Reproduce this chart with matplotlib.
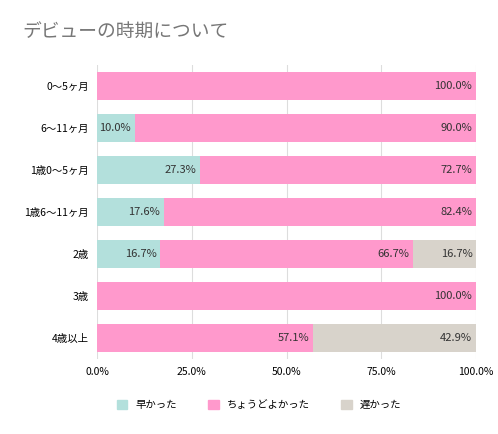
import matplotlib
matplotlib.use("Agg")
import matplotlib.pyplot as plt
from matplotlib.patches import Patch

plt.rcParams['font.family'] = ['Noto Sans CJK JP', 'DejaVu Sans']

categories = ["0〜5ヶ月", "6〜11ヶ月", "1歳0〜5ヶ月", "1歳6〜11ヶ月", "2歳", "3歳", "4歳以上"]
early = [0, 10.0, 27.3, 17.6, 16.7, 0, 0]
just = [100.0, 90.0, 72.7, 82.4, 66.7, 100.0, 57.1]
late = [0, 0, 0, 0, 16.7, 0, 42.9]
series_names = ["早かった", "ちょうどよかった", "遅かった"]
colors = ["#b3e0dc", "#ff99cc", "#d8d3cb"]

fig = plt.figure(figsize=(4.98, 4.34), dpi=100)
ax = fig.add_axes([97/498, 1 - 359/434, 379/498, 294/434])

y = list(range(len(categories)))
left = [0] * len(categories)
for vals, c in zip([early, just, late], colors):
    ax.barh(y, vals, left=left, color=c, height=0.68, zorder=2)
    for i, v in enumerate(vals):
        if v > 0:
            ax.text(left[i] + v - 1, i, f"{v:.1f}%", ha="right", va="center",
                    fontsize=8, color="#333333", zorder=3)
    left = [l + v for l, v in zip(left, vals)]

ax.set_ylim(len(categories) - 0.5, -0.5)
ax.set_xlim(0, 100)
ax.set_yticks(y)
ax.set_yticklabels(categories, fontsize=7.5)
ax.set_xticks([0, 25, 50, 75, 100])
ax.set_xticklabels(["0.0%", "25.0%", "50.0%", "75.0%", "100.0%"], fontsize=7.5)
ax.tick_params(length=0, pad=6)
ax.grid(axis="x", color="#dddddd", linewidth=0.8, zorder=0)
for s in ax.spines.values():
    s.set_visible(False)

fig.text(22/498, 1 - 31/434, "デビューの時期について", fontsize=13.5, color="#777777", va="center")

handles = [Patch(color=c) for c in colors]
fig.legend(handles, series_names, loc="center", bbox_to_anchor=(0.52, 1 - 405/434),
           ncol=3, frameon=False, fontsize=7.5, handlelength=1, handleheight=1,
           columnspacing=3)

fig.savefig("out.png", dpi=100)
